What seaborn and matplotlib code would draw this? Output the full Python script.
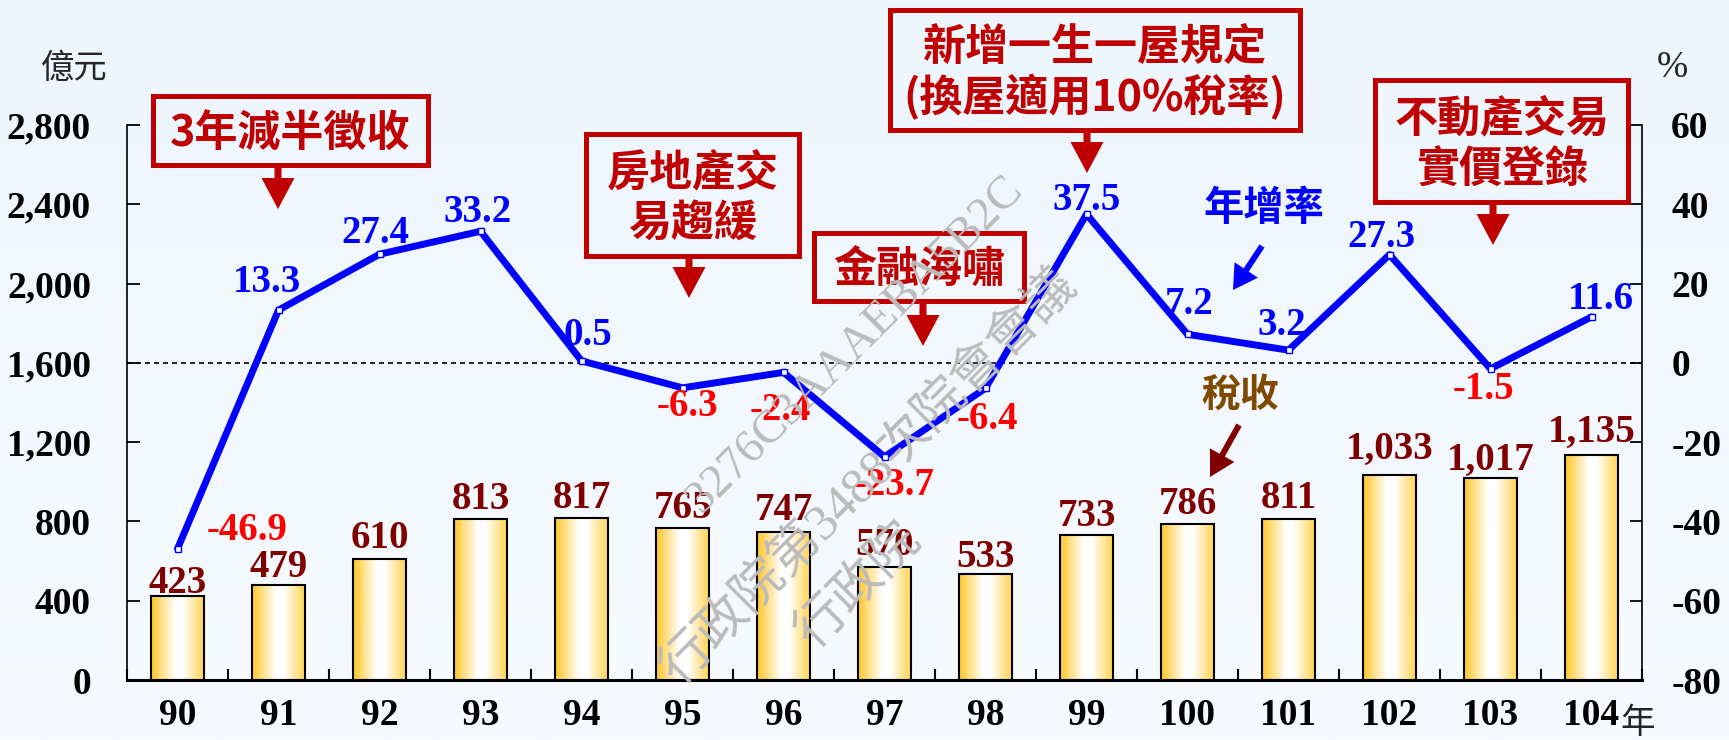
import numpy as np
import pandas as pd
import seaborn as sns
import matplotlib.pyplot as plt
from matplotlib.colors import LinearSegmentedColormap
from matplotlib.patches import Rectangle, FancyArrow
from matplotlib.transforms import Affine2D

# data
years = ["90", "91", "92", "93", "94", "95", "96", "97", "98", "99", "100", "101", "102", "103", "104"]
tax = [423, 479, 610, 813, 817, 765, 747, 570, 533, 733, 786, 811, 1033, 1017, 1135]
growth = [-46.9, 13.3, 27.4, 33.2, 0.5, -6.3, -2.4, -23.7, -6.4, 37.5, 7.2, 3.2, 27.3, -1.5, 11.6]
left_ticks = [0, 400, 800, 1200, 1600, 2000, 2400, 2800]
right_ticks = [-80, -60, -40, -20, 0, 20, 40, 60]

# label nudges in pixels (layout only)
tax_gap = [3, 8, 11, 10, 10, 10, 12, 12, 7, 9, 10, 11, 16, 9, 13]
growth_off = [(70, 18), (-11, 28), (-4, 21), (-3, 19), (6, 25), (5, -19), (-3, -38), (10, -29),
              (2, -31), (0, 14), (2, 30), (-7, 25), (-8, 17), (-7, -21), (9, 17)]

W, H = 1729, 740
SERIF = "Liberation Serif"
CJK = ["Noto Sans CJK TC"]
RED = "#C00000"
NUM = 28

sns.set_style("ticks")
plt.rcParams["font.family"] = [SERIF, "Noto Sans CJK TC"]
plt.rcParams["axes.edgecolor"] = "black"
plt.rcParams["xtick.color"] = "black"
plt.rcParams["ytick.color"] = "black"
plt.rcParams["axes.unicode_minus"] = False

fig = plt.figure(figsize=(W / 100, H / 100), dpi=100)
px = Affine2D().scale(1 / W, -1 / H).translate(0, 1) + fig.transFigure

# light blue background
bg = fig.add_axes([0, 0, 1, 1], zorder=-5)
bg_cmap = LinearSegmentedColormap.from_list("bg", ["#EDF5FD", "#F7FBFF"])
bg.imshow(np.linspace(0, 1, 256)[:, None], cmap=bg_cmap, aspect="auto", extent=[0, 1, 0, 1])
bg.axis("off")

ax = fig.add_axes([127 / W, 1 - 680 / H, 1515 / W, 555 / H])
ax.patch.set_alpha(0)

df = pd.DataFrame({"year": years, "tax": tax})
sns.barplot(data=df, x="year", y="tax", ax=ax, width=0.515, color="#FFC72C",
            edgecolor="black", linewidth=1.5, errorbar=None, zorder=3)

# gold - white - gold shading inside each bar
bar_cmap = LinearSegmentedColormap.from_list(
    "bar", [(0, "#FFC628"), (0.45, "#FFFFFF"), (0.6, "#FFFFFF"), (1, "#FFD452")])
row = np.linspace(0, 1, 128)[None, :]
for p in list(ax.patches):
    x0, y0, w, h = p.get_x(), p.get_y(), p.get_width(), p.get_height()
    im = ax.imshow(row, cmap=bar_cmap, aspect="auto", extent=[x0, x0 + w, y0, y0 + h],
                   zorder=2.5, interpolation="bilinear")
    im.set_clip_path(p)
    p.set_facecolor("none")

for i, v in enumerate(tax):
    ax.annotate(f"{v:,}", (i, v), xytext=(0, tax_gap[i]), textcoords="offset pixels",
                ha="center", va="baseline", fontsize=NUM, fontweight="bold",
                color="#800000", family=SERIF, zorder=5)

ax2 = ax.twinx()
sns.lineplot(x=np.arange(len(growth)), y=growth, ax=ax2, color="#0000FF", linewidth=5,
             marker="s", markersize=5, markerfacecolor="white", markeredgecolor="#0000FF",
             markeredgewidth=1.0, zorder=4)
ax2.axhline(0, color="black", lw=1.2, ls=(0, (3, 2.4)), zorder=1)

for i, g in enumerate(growth):
    dx, dy = growth_off[i]
    ax2.annotate(f"{g:.1f}", (i, g), xytext=(dx, dy), textcoords="offset pixels",
                 ha="center", va="center", fontsize=NUM, fontweight="bold",
                 color="#0000FF" if g > 0 else "#FF0000", family=SERIF, zorder=6)

# axes cosmetics
ax.set_xlim(-0.5, 14.5)
ax.set_ylim(0, 2800)
ax2.set_ylim(-80, 60)
ax.set_xlabel("")
ax.set_ylabel("")
ax.set_yticks(left_ticks)
ax.set_yticklabels([f"{t:,}" for t in left_ticks])
ax.set_xticks(range(len(years)))
ax.set_xticklabels(years)
ax.set_xticks(np.arange(-0.5, len(years), 1), minor=True)
ax.tick_params(axis="x", which="major", length=0, pad=13, labelsize=27, bottom=True)
ax.tick_params(axis="x", which="minor", direction="in", length=8, width=1.5, bottom=True)
ax.tick_params(axis="y", direction="in", length=9, width=1.3, pad=26, labelsize=27, left=True)
ax2.set_yticks(right_ticks)
ax2.set_yticklabels([str(t) for t in right_ticks])
ax2.tick_params(axis="y", direction="in", length=9, width=1.3, pad=21, labelsize=27, right=True)
for lab in ax.get_xticklabels() + ax.get_yticklabels() + ax2.get_yticklabels():
    lab.set_fontweight("bold")
    lab.set_family(SERIF)

ax.spines["top"].set_visible(False)
ax.spines["right"].set_visible(False)
ax.spines["left"].set_linewidth(1.2)
ax.spines["bottom"].set_linewidth(2.2)
for s in ["top", "left", "bottom"]:
    ax2.spines[s].set_visible(False)
ax2.spines["right"].set_linewidth(1.2)

# unit labels
fig.text(74, 68, "億元", transform=px, ha="center", va="center", fontsize=24, family=CJK)
fig.text(1672, 68, "%", transform=px, ha="center", va="center", fontsize=27, family=SERIF)
fig.text(1638, 724, "年", transform=px, ha="center", va="center", fontsize=25, family=CJK)

# red callout boxes
boxes = [
    ((151, 93, 431, 167), 290, [("3年減半徵收", 134)]),
    ((584, 131, 802, 258), 693, [("房地產交", 172), ("易趨緩", 223)]),
    ((812, 230, 1027, 303), 919, [("金融海嘯", 270)]),
    ((888, 7, 1303, 132), 1095, [("新增一生一屋規定", 47), ("(換屋適用10%稅率)", 97)]),
    ((1373, 77, 1631, 204), 1502, [("不動產交易", 118), ("實價登錄", 170)]),
]
for (x0, y0, x1, y1), cx, lines in boxes:
    fig.add_artist(Rectangle((x0 + 2.5, y0 + 2.5), x1 - x0 - 5, y1 - y0 - 5, transform=px,
                             fill=False, edgecolor=RED, linewidth=3.6))
    for txt, cy in lines:
        fig.text(cx, cy, txt, transform=px, ha="center", va="center", fontsize=31,
                 fontweight="bold", color=RED, family=CJK)

for x, ya, yb in [(278, 168, 209), (689, 259, 298), (923, 304, 346), (1087, 133, 173), (1493, 205, 245)]:
    fig.add_artist(FancyArrow(x, ya, 0, yb - ya, width=7, head_width=33, head_length=31,
                              length_includes_head=True, transform=px, color=RED, lw=0))

# series tags
fig.text(1264, 209, "年增率", transform=px, ha="center", va="center", fontsize=29,
         fontweight="bold", color="#0000FF", family=CJK)
fig.add_artist(FancyArrow(1262, 246, -29, 44, width=6, head_width=28, head_length=24,
                          length_includes_head=True, transform=px, color="#0000FF", lw=0))
fig.text(1240, 395, "稅收", transform=px, ha="center", va="center", fontsize=28,
         fontweight="bold", color="#7F4A00", family=CJK)
fig.add_artist(FancyArrow(1239, 425, -29, 52, width=6, head_width=28, head_length=25,
                          length_includes_head=True, transform=px, color="#800000", lw=0))

# watermark
for s, x, y, size, fam in [("3276C3AAAEBA5B2C", 855, 345, 34, [SERIF]),
                           ("行政院第3488次院會會議", 870, 478, 37, [SERIF] + CJK),
                           ("行政院", 858, 585, 37, CJK)]:
    fig.text(x, y, s, transform=px, rotation=45, rotation_mode="anchor", ha="center",
             va="center", fontsize=size, color="#BBBBBB", family=fam, zorder=10)

fig.savefig("out.png", dpi=100)
